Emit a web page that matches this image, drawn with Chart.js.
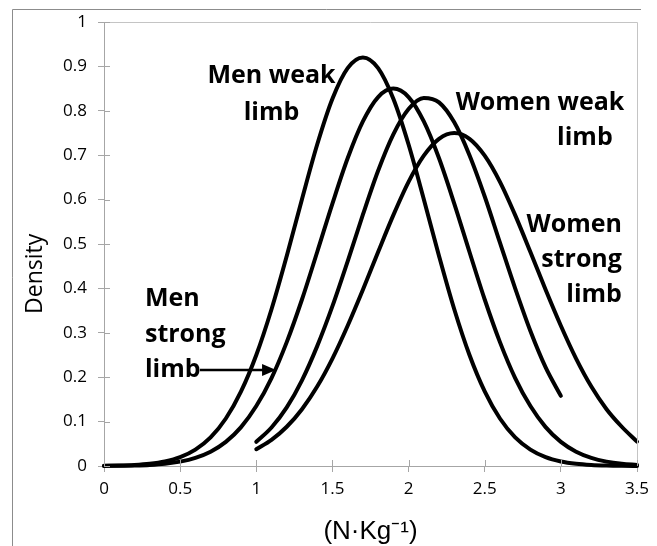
<!DOCTYPE html>
<html>
<head>
<meta charset="utf-8">
<script src="https://cdn.jsdelivr.net/npm/chart.js@4.4.1/dist/chart.umd.min.js"></script>
<style>
  html, body { margin: 0; padding: 0; background: #ffffff; }
  #wrap { width: 657px; height: 546px; position: relative; }
</style>
</head>
<body>
<div id="wrap"><canvas id="densityChart"></canvas></div>
<script>
// Değerler (x adımı 0.1)
const xMen = [0, 0.1, 0.2, 0.3, 0.4, 0.5, 0.6, 0.7, 0.8, 0.9, 1.0, 1.1, 1.2, 1.3, 1.4, 1.5, 1.6, 1.7,
              1.8, 1.9, 2.0, 2.1, 2.2, 2.3, 2.4, 2.5, 2.6, 2.7, 2.8, 2.9, 3.0, 3.1, 3.2, 3.3, 3.4, 3.5];
const menWeak = [0.0004, 0.001, 0.0023, 0.005, 0.0103, 0.020, 0.037, 0.0645, 0.107, 0.168, 0.250, 0.353,
                 0.473, 0.601, 0.724, 0.827, 0.896, 0.920, 0.896, 0.827, 0.724, 0.601, 0.473, 0.353,
                 0.250, 0.168, 0.107, 0.0645, 0.037, 0.020, 0.0103, 0.005, 0.0023, 0.001, 0.0004, 0.0002];
const menStrong = [0.0002, 0.0005, 0.0012, 0.0025, 0.0051, 0.0099, 0.0183, 0.0322, 0.0543, 0.0876, 0.135,
                   0.198, 0.279, 0.375, 0.482, 0.591, 0.693, 0.776, 0.831, 0.850, 0.831, 0.776, 0.693,
                   0.591, 0.482, 0.375, 0.279, 0.198, 0.135, 0.0876, 0.0543, 0.0322, 0.0183, 0.0099,
                   0.0051, 0.0025];

const xWomenWeak = [1.0, 1.1, 1.2, 1.3, 1.4, 1.5, 1.6, 1.7, 1.8, 1.9, 2.0, 2.1, 2.2, 2.3, 2.4, 2.5,
                    2.6, 2.7, 2.8, 2.9, 3.0];
const womenWeak = [0.0545, 0.0868, 0.132, 0.193, 0.270, 0.360, 0.461, 0.566, 0.665, 0.747, 0.804, 0.829,
                   0.819, 0.774, 0.700, 0.607, 0.503, 0.400, 0.304, 0.222, 0.158];

const xWomenStrong = [1.0, 1.1, 1.2, 1.3, 1.4, 1.5, 1.6, 1.7, 1.8, 1.9, 2.0, 2.1, 2.2, 2.3, 2.4, 2.5,
                      2.6, 2.7, 2.8, 2.9, 3.0, 3.1, 3.2, 3.3, 3.4, 3.5];
const womenStrong = [0.0379, 0.0589, 0.0884, 0.128, 0.179, 0.242, 0.316, 0.397, 0.482, 0.565, 0.640,
                     0.699, 0.737, 0.750, 0.737, 0.699, 0.640, 0.565, 0.482, 0.397, 0.316, 0.242,
                     0.179, 0.128, 0.0884, 0.055];

const xTicks = [0, 0.5, 1, 1.5, 2, 2.5, 3, 3.5];
const yTicks = [0, 0.1, 0.2, 0.3, 0.4, 0.5, 0.6, 0.7, 0.8, 0.9, 1];

// Eğri etiketleri (veri koordinatında konum)
const curveLabels = [
    { text: 'Men weak', x: 1.10, y: 0.863, align: 'center' },
    { text: 'limb', x: 1.10, y: 0.779, align: 'center' },
    { text: 'Women weak', x: 2.863, y: 0.802, align: 'center' },
    { text: 'limb', x: 3.158, y: 0.723, align: 'center' },
    { text: 'Women', x: 3.401, y: 0.527, align: 'right' },
    { text: 'strong', x: 3.401, y: 0.448, align: 'right' },
    { text: 'limb', x: 3.401, y: 0.369, align: 'right' },
    { text: 'Men', x: 0.269, y: 0.360, align: 'left' },
    { text: 'strong', x: 0.269, y: 0.279, align: 'left' },
    { text: 'limb', x: 0.269, y: 0.200, align: 'left' }
];
const arrow = { x0: 0.63, x1: 1.13, y: 0.216 };

const AXIS_COLOR = '#a6a6a6';

function pairs(xs, ys) {
    return xs.map((x, i) => ({ x: x, y: ys[i] }));
}

function curve(label, xs, ys) {
    return {
        label: label,
        data: pairs(xs, ys),
        borderColor: '#000000',
        borderWidth: 4,
        borderCapStyle: 'round',
        borderJoinStyle: 'round',
        pointRadius: 0,
        fill: false,
        cubicInterpolationMode: 'monotone',
        clip: false
    };
}

// Çerçeve, iç tik çizgileri, etiketler ve ok
const decorPlugin = {
    id: 'decor',
    beforeDraw(chart) {
        const ctx = chart.ctx;
        ctx.save();
        ctx.fillStyle = '#ffffff';
        ctx.fillRect(0, 0, chart.width, chart.height);
        // dış çerçeve (sol ve üst)
        ctx.strokeStyle = '#8c8c8c';
        ctx.lineWidth = 1;
        ctx.beginPath();
        ctx.moveTo(12.5, chart.height);
        ctx.lineTo(12.5, 9.5);
        ctx.lineTo(641, 9.5);
        ctx.stroke();
        ctx.restore();
    },
    afterDraw(chart) {
        const ctx = chart.ctx;
        const a = chart.chartArea;
        const xs = chart.scales.x, ys = chart.scales.y;
        ctx.save();
        // üst ve sağ kenar
        ctx.strokeStyle = '#c4c4c4';
        ctx.lineWidth = 1;
        ctx.beginPath();
        ctx.moveTo(a.left, a.top + 0.5);
        ctx.lineTo(a.right + 0.5, a.top + 0.5);
        ctx.lineTo(a.right + 0.5, a.bottom);
        ctx.stroke();
        // tiklerin iç kısmı
        ctx.strokeStyle = AXIS_COLOR;
        ctx.beginPath();
        yTicks.forEach(v => {
            const py = Math.round(ys.getPixelForValue(v)) + 0.5;
            ctx.moveTo(a.left, py);
            ctx.lineTo(a.left + 6, py);
        });
        xTicks.forEach(v => {
            const px = Math.round(xs.getPixelForValue(v)) + 0.5;
            ctx.moveTo(px, a.bottom);
            ctx.lineTo(px, a.bottom - 6);
        });
        ctx.stroke();
        // etiketler
        ctx.fillStyle = '#000000';
        ctx.font = "bold 25px 'Open Sans', sans-serif";
        ctx.textBaseline = 'alphabetic';
        curveLabels.forEach(l => {
            ctx.textAlign = l.align;
            ctx.fillText(l.text, xs.getPixelForValue(l.x), ys.getPixelForValue(l.y));
        });
        // ok
        const ax0 = xs.getPixelForValue(arrow.x0);
        const ax1 = xs.getPixelForValue(arrow.x1);
        const ay = ys.getPixelForValue(arrow.y);
        ctx.strokeStyle = '#000000';
        ctx.lineWidth = 2.5;
        ctx.beginPath();
        ctx.moveTo(ax0, ay);
        ctx.lineTo(ax1 - 10, ay);
        ctx.stroke();
        ctx.beginPath();
        ctx.moveTo(ax1, ay);
        ctx.lineTo(ax1 - 14, ay - 6);
        ctx.lineTo(ax1 - 14, ay + 6);
        ctx.closePath();
        ctx.fill();
        ctx.restore();
    }
};

new Chart(document.getElementById('densityChart'), {
    type: 'line',
    data: {
        datasets: [
            curve('Men weak limb', xMen, menWeak),
            curve('Men strong limb', xMen, menStrong),
            curve('Women weak limb', xWomenWeak, womenWeak),
            curve('Women strong limb', xWomenStrong, womenStrong)
        ]
    },
    options: {
        responsive: true,
        maintainAspectRatio: false,
        animation: false,
        layout: { padding: { left: 0, top: 22, right: 20, bottom: 0 } },
        plugins: {
            legend: { display: false },
            tooltip: { enabled: false }
        },
        scales: {
            x: {
                type: 'linear',
                min: 0,
                max: 3.5,
                afterBuildTicks: s => { s.ticks = xTicks.map(v => ({ value: v })); },
                afterFit: s => { s.height = 80; },
                grid: { drawOnChartArea: false, tickLength: 6, tickColor: AXIS_COLOR },
                border: { color: AXIS_COLOR, width: 1 },
                ticks: {
                    color: '#000000',
                    padding: 7,
                    maxRotation: 0,
                    font: { family: "'Open Sans', sans-serif", size: 17 },
                    callback: v => String(v)
                },
                title: {
                    display: true,
                    text: '(N·Kg⁻¹)',
                    color: '#000000',
                    padding: { top: 0, bottom: 1 },
                    font: { family: "'Liberation Sans', Arial, sans-serif", size: 26, lineHeight: 1 }
                }
            },
            y: {
                min: 0,
                max: 1,
                afterBuildTicks: s => { s.ticks = yTicks.map(v => ({ value: v })); },
                afterFit: s => { s.width = 104; },
                grid: { drawOnChartArea: false, tickLength: 6, tickColor: AXIS_COLOR },
                border: { color: AXIS_COLOR, width: 1 },
                ticks: {
                    color: '#000000',
                    padding: 11,
                    font: { family: "'Open Sans', sans-serif", size: 17 },
                    callback: v => String(v)
                },
                title: {
                    display: true,
                    // sondaki boşluklar başlığı referanstaki gibi aşağı kaydırır
                    text: 'Density          ',
                    color: '#000000',
                    padding: { top: 22, bottom: 0 },
                    font: { family: "'Open Sans', sans-serif", size: 23 }
                }
            }
        }
    },
    plugins: [decorPlugin]
});
</script>
</body>
</html>
